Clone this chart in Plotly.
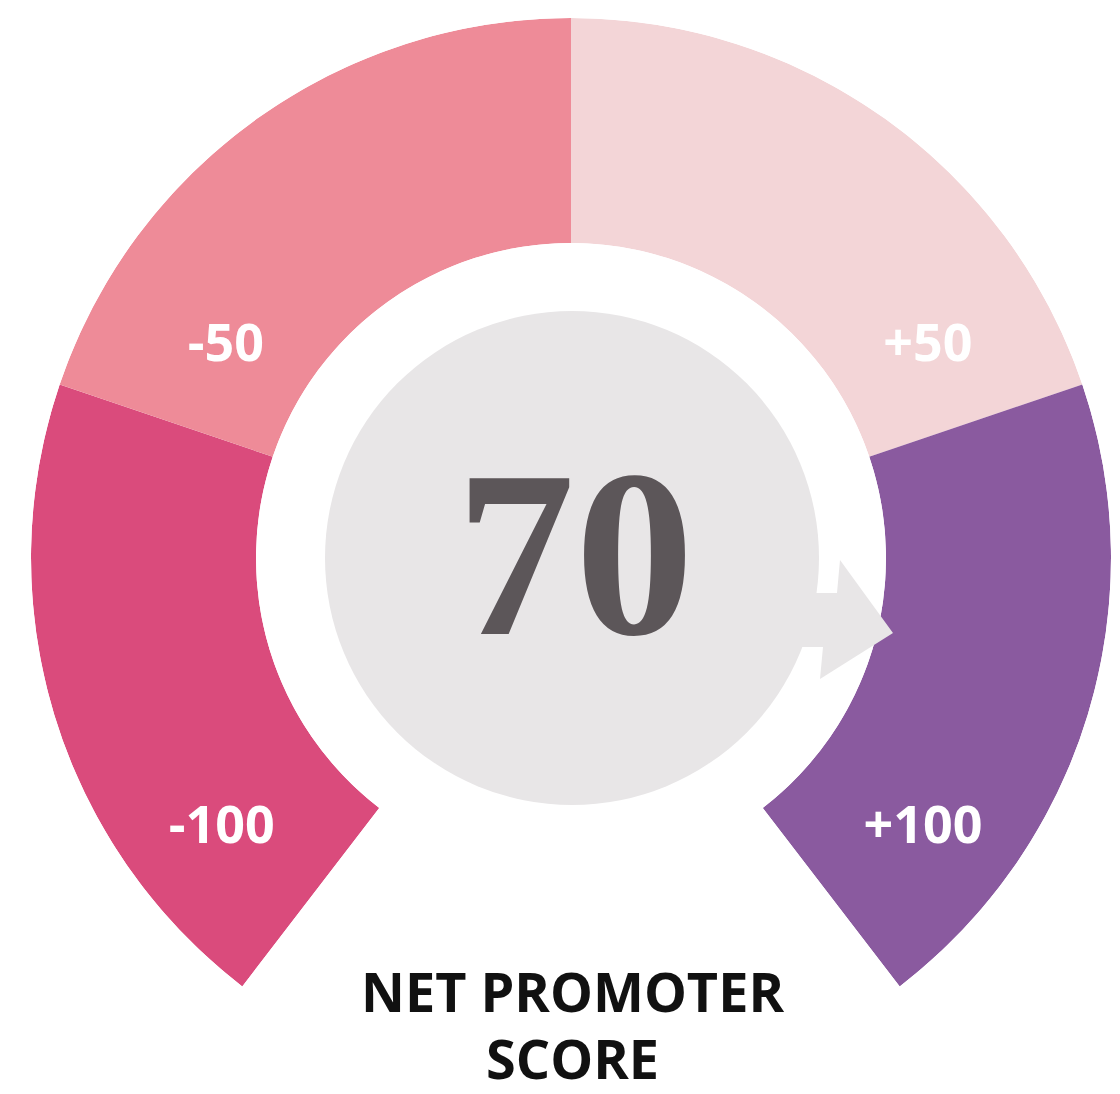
import plotly.graph_objects as go

# ---- data ----
segments = ["-100", "-50", "+50", "+100"]
segment_sizes = [1, 1, 1, 1]          # equal-width bands of the gauge
segment_colors = ["#DA4B7C", "#EE8B98", "#F3D5D7", "#8A5A9F"]
score = 70
title_lines = ["NET PROMOTER", "SCORE"]

# label placement inside each band (angle in degrees, radial fraction)
label_theta = [217.9, 148.7, 30.5, -37.7]
label_r = [0.567, 0.395, 0.441, 0.577]

W, H = 1120, 1094
START, END = 232.5, -52.5    # gauge spans from lower-left to lower-right
span = START - END

total = sum(segment_sizes)
thetas, widths = [], []
acc = 0
for s in segment_sizes:
    thetas.append(START - (acc + s / 2) / total * span)
    widths.append(span * s / total)
    acc += s

fig = go.Figure()
fig.add_trace(go.Barpolar(
    r=[1] * len(segments), theta=thetas, width=widths,
    marker=dict(color=segment_colors, line=dict(width=0)),
    hoverinfo="skip", showlegend=False,
))
fig.add_trace(go.Scatterpolar(
    r=label_r, theta=label_theta, mode="text", text=segments,
    textfont=dict(family="Open Sans", size=52, color="white", weight="bold"),
    textposition="middle center", hoverinfo="skip", showlegend=False,
))


def px(x):
    return x / W


def py(y):
    return 1 - y / H


# center disc
cx, cy, rr = 572, 558, 247
shapes = [dict(type="circle", xref="paper", yref="paper",
               x0=px(cx - rr), x1=px(cx + rr), y0=py(cy + rr), y1=py(cy - rr),
               fillcolor="#E8E6E7", line=dict(width=0), layer="above")]

# arrow head at the right of the disc
pts = [(810, 593), (837, 593), (840, 560), (893, 633), (820, 679), (823, 647), (798, 647)]
path = "M " + " L ".join(f"{px(x):.5f},{py(y):.5f}" for x, y in pts) + " Z"
shapes.append(dict(type="path", xref="paper", yref="paper", path=path,
                   fillcolor="#E8E6E7", line=dict(width=0), layer="above"))

annotations = [
    dict(text=str(score), x=px(575), y=py(553), xref="paper", yref="paper",
         showarrow=False, xanchor="center", yanchor="middle",
         font=dict(family="Liberation Serif", size=238, color="#5C5659", weight="bold")),
    dict(text=title_lines[0], x=px(572), y=py(991), xref="paper", yref="paper",
         showarrow=False, xanchor="center", yanchor="middle", borderpad=0,
         font=dict(family="Open Sans", size=54, color="#111111", weight="bold")),
    dict(text=title_lines[1], x=px(572), y=py(1058), xref="paper", yref="paper",
         showarrow=False, xanchor="center", yanchor="middle", borderpad=0,
         font=dict(family="Open Sans", size=54, color="#111111", weight="bold")),
]

fig.update_layout(
    width=W, height=H,
    margin=dict(l=0, r=0, t=0, b=0),
    paper_bgcolor="white",
    polar=dict(
        domain=dict(x=[30 / W, 1112 / W], y=[py(986.4), py(18)]),
        sector=[END, START],
        hole=315 / 540,
        bgcolor="white",
        radialaxis=dict(range=[0, 1], visible=False),
        angularaxis=dict(visible=False, rotation=0, direction="counterclockwise"),
    ),
    shapes=shapes,
    annotations=annotations,
)

fig.write_html("out.html", config={"displayModeBar": False},
               post_script="document.body.style.margin='0';document.body.style.overflow='hidden';")
